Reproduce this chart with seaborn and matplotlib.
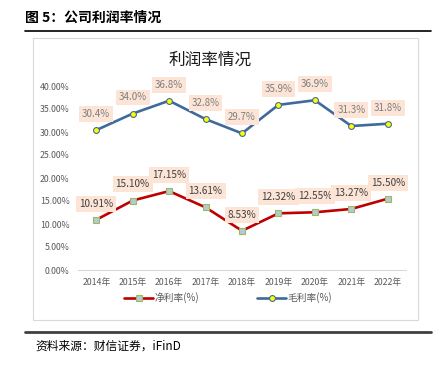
import matplotlib
matplotlib.use('Agg')
import matplotlib.pyplot as plt
import seaborn as sns
import pandas as pd
from matplotlib.patches import Rectangle
from matplotlib.lines import Line2D
from matplotlib.ticker import FuncFormatter

# dados do gráfico
anos = ['2014年', '2015年', '2016年', '2017年', '2018年', '2019年', '2020年', '2021年', '2022年']
margem_bruta = [30.4, 34.0, 36.8, 32.8, 29.7, 35.9, 36.9, 31.3, 31.8]
margem_liquida = [10.91, 15.10, 17.15, 13.61, 8.53, 12.32, 12.55, 13.27, 15.50]
yticks = [0, 5, 10, 15, 20, 25, 30, 35, 40]

sns.set_theme(style='white')
plt.rcParams['font.family'] = ['Noto Sans CJK SC', 'DejaVu Sans']

W, H = 439, 368
fig = plt.figure(figsize=(W / 100, H / 100), dpi=100)

def fx(px):
    return px / W

def fy(py):
    return 1 - py / H

# cabeçalho e linhas
fig.text(fx(25), fy(18), '图 5：公司利润率情况', fontsize=10, fontweight='bold',
         va='center', ha='left', color='black')
fig.add_artist(Line2D([fx(25), fx(431)], [fy(31), fy(31)], color='black', lw=1.2))
fig.add_artist(Line2D([fx(25), fx(431)], [fy(332), fy(332)], color='#404040', lw=2))
fig.add_artist(Rectangle((fx(33), fy(320)), fx(418) - fx(33), fy(38) - fy(320),
                         fill=False, edgecolor='#D9D9D9', lw=0.8))
fig.text(fx(210), fy(60), '利润率情况', fontsize=12, ha='center', va='center', color='#1A1A1A')
fig.text(fx(35), fy(346), '资料来源：财信证券，iFinD', fontsize=8.5, style='italic',
         ha='left', va='center', color='black')

ax = fig.add_axes([fx(78), fy(270), fx(406) - fx(78), fy(86) - fy(270)])

df = pd.DataFrame({'x': range(len(anos)), 'bruta': margem_bruta, 'liquida': margem_liquida})

sns.lineplot(data=df, x='x', y='liquida', ax=ax, color='#C00000', lw=1.9,
             marker='s', markersize=4.2, markerfacecolor='#B4C7DC', markeredgecolor='#9BBB59',
             markeredgewidth=0.8, label='净利率(%)')
sns.lineplot(data=df, x='x', y='bruta', ax=ax, color='#3F6A9B', lw=1.9,
             marker='o', markersize=4.2, markerfacecolor='#FFFF00', markeredgecolor='#3F6A9B',
             markeredgewidth=0.8, label='毛利率(%)')

caixa = dict(boxstyle='square,pad=0.3', facecolor='#FCE4D6', edgecolor='none')
for i, v in enumerate(margem_bruta):
    ax.annotate(f'{v:.1f}%', (i, v), xytext=(0, 8), textcoords='offset points',
                ha='center', va='bottom', fontsize=7, color='#7F7F7F', bbox=caixa)
for i, v in enumerate(margem_liquida):
    ax.annotate(f'{v:.2f}%', (i, v), xytext=(0, 8), textcoords='offset points',
                ha='center', va='bottom', fontsize=7.2, color='#404040', bbox=caixa)

ax.set_xlim(-0.5, len(anos) - 0.5)
ax.set_ylim(0, 40)
ax.set_xticks(range(len(anos)))
ax.set_xticklabels(anos)
ax.set_yticks(yticks)
ax.yaxis.set_major_formatter(FuncFormatter(lambda v, p: f'{v:.2f}%'))
ax.tick_params(axis='both', labelsize=6.3, colors='#595959', length=0, pad=6)
ax.set_xlabel('')
ax.set_ylabel('')
for s in ['top', 'right', 'left']:
    ax.spines[s].set_visible(False)
ax.spines['bottom'].set_color('#D9D9D9')
ax.spines['bottom'].set_linewidth(0.8)
ax.grid(False)

ax.get_legend().remove()
handles, labels = ax.get_legend_handles_labels()
fig.legend(handles, labels, loc='center', bbox_to_anchor=(fx(228), fy(298)), ncol=2,
           frameon=False, fontsize=7, labelcolor='#595959', columnspacing=6,
           handlelength=3, handletextpad=0.1)

plt.savefig('out.png', dpi=100)
